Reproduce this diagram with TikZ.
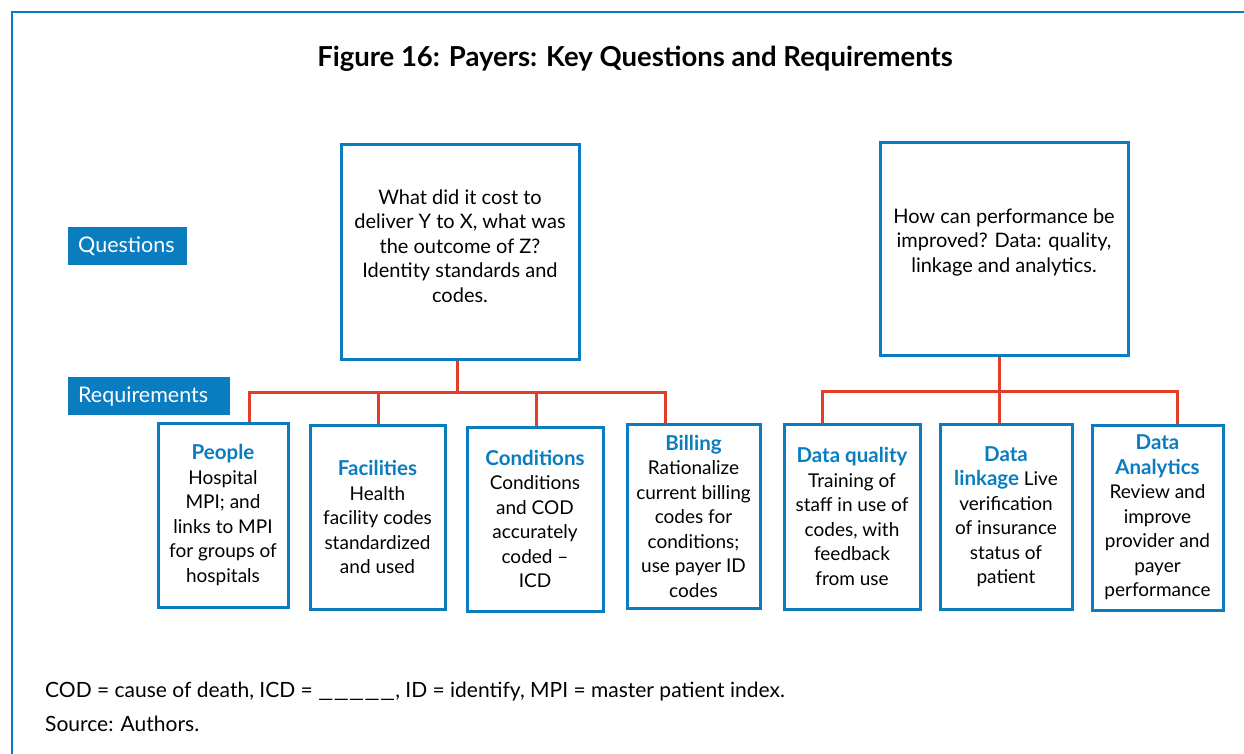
\documentclass[tikz,border=0pt]{standalone}
\usepackage{fontspec}
\setmainfont{Lato}
\definecolor{adbblue}{HTML}{0A7DC0}
\definecolor{linered}{HTML}{E23D28}
\newcommand{\hdtxt}[1]{{\color{adbblue}\bfseries\fontsize{20.5}{24.5}\selectfont #1}}
\begin{document}
\begin{tikzpicture}[x=1pt,y=-1pt,
  rbox/.style={draw=adbblue, line width=3pt, fill=white, inner sep=0pt, align=center, font=\fontsize{19}{24.5}\selectfont},
  qtext/.style={inner sep=0pt, align=center, font=\fontsize{20}{24.5}\selectfont},
  conn/.style={draw=linered, line width=3pt},
  lbl/.style={fill=adbblue, text=white, inner xsep=10pt, inner ysep=0pt, align=left, anchor=north west, minimum height=38pt, font=\fontsize{21.5}{24}\selectfont},
  note/.style={anchor=base west, inner sep=0pt, font=\fontsize{21}{24}\selectfont}]
\useasboundingbox (0,0) rectangle (1244,754);
\draw[adbblue, line width=2pt] (1244,12) -- (12,12) -- (12,754);

\node[font=\bfseries\fontsize{27.5}{32}\selectfont] (title) at (635,59) {Figure 16: Payers: Key Questions and Requirements};

\node[lbl, text width=99pt] (qlbl) at (68,227) {Questions};
\node[lbl, text width=142pt] (rlbl) at (68,377) {Requirements};

% question boxes
\node[rbox, minimum width=238pt, minimum height=214pt] (q1) at (460,252) {};
\node[qtext] (q1t) at (460,246) {What did it cost to\\deliver Y to X, what was\\the outcome of Z?\\Identity standards and\\codes.};
\node[rbox, minimum width=248pt, minimum height=212pt] (q2) at (1004,249) {};
\node[qtext] (q2t) at (1004,242) {How can performance be\\improved? Data: quality,\\linkage and analytics.};

% requirement boxes
\node[rbox, minimum width=130pt, minimum height=184pt] (people) at (223,515)
  {\hdtxt{People}\\Hospital\\MPI; and\\links to MPI\\for groups of\\hospitals};
\node[rbox, minimum width=135pt, minimum height=184pt] (fac) at (377.5,517)
  {\hdtxt{Facilities}\\Health\\facility codes\\standardized\\and used};
\node[rbox, minimum width=136pt, minimum height=184pt] (cond) at (535,519)
  {\hdtxt{Conditions}\\Conditions\\and COD\\accurately\\coded --\\ICD};
\node[rbox, minimum width=133pt, minimum height=184pt] (bill) at (693.5,516)
  {\hdtxt{Billing}\\Rationalize\\current billing\\codes for\\conditions;\\use payer ID\\codes};
\node[rbox, minimum width=136pt, minimum height=185pt] (dq) at (852,516.5)
  {\hdtxt{Data quality}\\Training of\\staff in use of\\codes, with\\feedback\\from use};
\node[rbox, minimum width=132pt, minimum height=185pt] (dl) at (1006,516.5)
  {\hdtxt{Data}\\\hdtxt{linkage} Live\\verification\\of insurance\\status of\\patient};
\node[rbox, minimum width=131pt, minimum height=185pt] (da) at (1157.5,517.5)
  {\hdtxt{Data}\\\hdtxt{Analytics}\\Review and\\improve\\provider and\\payer\\performance};

% connectors left
\coordinate (j1) at (457,392);
\coordinate (a1) at (249,392);
\coordinate (a2) at (378,392);
\coordinate (a3) at (536,392);
\coordinate (a4) at (665,392);
\draw[conn] (q1.south -| j1) -- (j1);
\draw[conn] (people.north -| a1) -- (a1) -- (a4) -- (bill.north -| a4);
\draw[conn] (a2) -- (fac.north -| a2);
\draw[conn] (a3) -- (cond.north -| a3);

% connectors right
\coordinate (j2) at (999,391);
\coordinate (b1) at (822,391);
\coordinate (b3) at (1177,391);
\draw[conn] (q2.south -| j2) -- (dl.north -| j2);
\draw[conn] (dq.north -| b1) -- (b1) -- (b3) -- (da.north -| b3);

\node[note] (fn1) at (45,697) {COD = cause of death, ICD = \scalebox{1.6}[1]{\_\_\_\_\_}, ID = identify, MPI = master patient index.};
\node[note] (fn2) at (45,731) {Source: Authors.};
\end{tikzpicture}
\end{document}
